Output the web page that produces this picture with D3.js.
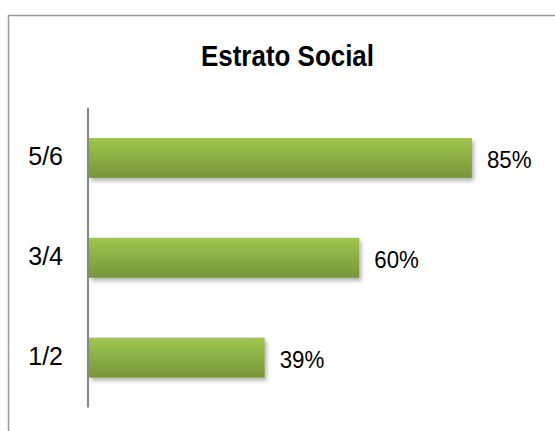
<!DOCTYPE html>
<html>
<head>
<meta charset="utf-8">
<script src="https://cdn.jsdelivr.net/npm/d3@7"></script>
<style>
  body { margin: 0; background: #fff; }
  svg { display: block; }
</style>
</head>
<body>
<div id="container"></div>
<script>
  // chart data
  var categories = ["5/6", "3/4", "1/2"];
  var values = [0.85, 0.60, 0.39];
  var valueLabels = ["85%", "60%", "39%"];
  var title = "Estrato Social";

  var width = 555, height = 431;
  var svg = d3.select("#container").append("svg")
      .attr("width", width)
      .attr("height", height);

  // gradient + shadow for the bars
  var defs = svg.append("defs");
  var grad = defs.append("linearGradient")
      .attr("id", "barGrad")
      .attr("x1", 0).attr("y1", 0).attr("x2", 0).attr("y2", 1);
  grad.append("stop").attr("offset", "0%").attr("stop-color", "#9fc74e");
  grad.append("stop").attr("offset", "100%").attr("stop-color", "#77953b");

  var shadow = defs.append("filter")
      .attr("id", "barShadow")
      .attr("x", "-5%").attr("y", "-20%")
      .attr("width", "115%").attr("height", "160%");
  shadow.append("feDropShadow")
      .attr("dx", 2).attr("dy", 3)
      .attr("stdDeviation", 2)
      .attr("flood-color", "#000")
      .attr("flood-opacity", 0.3);

  // chart border (runs off the bottom/right of the picture)
  svg.append("rect")
      .attr("x", 8.5).attr("y", 15.5)
      .attr("width", 560).attr("height", 440)
      .attr("fill", "none")
      .attr("stroke", "#999")
      .attr("stroke-width", 1.5);

  // no narrow font installed, so squeeze the bold title to the original width
  svg.append("text")
      .attr("x", 287.5).attr("y", 66)
      .attr("text-anchor", "middle")
      .attr("font-family", "'Liberation Sans Narrow', 'Arial Narrow', 'Liberation Sans', sans-serif")
      .attr("font-weight", "bold")
      .attr("font-size", 30)
      .attr("textLength", 173)
      .attr("lengthAdjust", "spacingAndGlyphs")
      .attr("fill", "#000")
      .text(title);

  var x = d3.scaleLinear().domain([0, 1]).range([89, 539.5]);
  var y = d3.scaleBand()
      .domain(categories)
      .range([108, 407.5])
      .paddingInner(0.6)
      .paddingOuter(0.3);

  svg.selectAll("rect.bar")
      .data(values)
      .enter().append("rect")
      .attr("class", "bar")
      .attr("x", x(0))
      .attr("y", function(d, i) { return y(categories[i]); })
      .attr("width", function(d) { return x(d) - x(0); })
      .attr("height", y.bandwidth())
      .attr("fill", "url(#barGrad)")
      .attr("filter", "url(#barShadow)");

  // vertical category axis line
  svg.append("line")
      .attr("x1", 88).attr("x2", 88)
      .attr("y1", 108).attr("y2", 407.5)
      .attr("stroke", "#868686")
      .attr("stroke-width", 2);

  svg.selectAll("text.cat")
      .data(categories)
      .enter().append("text")
      .attr("class", "cat")
      .attr("x", 63)
      .attr("y", function(d) { return y(d) + y.bandwidth() / 2 + 7.5; })
      .attr("text-anchor", "end")
      .attr("font-family", "'Liberation Sans', Arial, sans-serif")
      .attr("font-size", 25)
      .attr("fill", "#000")
      .text(function(d) { return d; });

  var vals = svg.selectAll("text.val")
      .data(values)
      .enter().append("text")
      .attr("class", "val")
      .attr("x", function(d) { return x(d) + 15; })
      .attr("y", function(d, i) { return y(categories[i]) + y.bandwidth() / 2 + 10.5; })
      .attr("font-family", "'Liberation Sans', Arial, sans-serif")
      .attr("font-size", 24)
      .attr("fill", "#000")
      .text(function(d, i) { return valueLabels[i]; });

  // slightly condensed, like the original labels
  vals.each(function() {
    var w = this.getComputedTextLength();
    d3.select(this)
      .attr("textLength", w * 0.93)
      .attr("lengthAdjust", "spacingAndGlyphs");
  });
</script>
</body>
</html>
